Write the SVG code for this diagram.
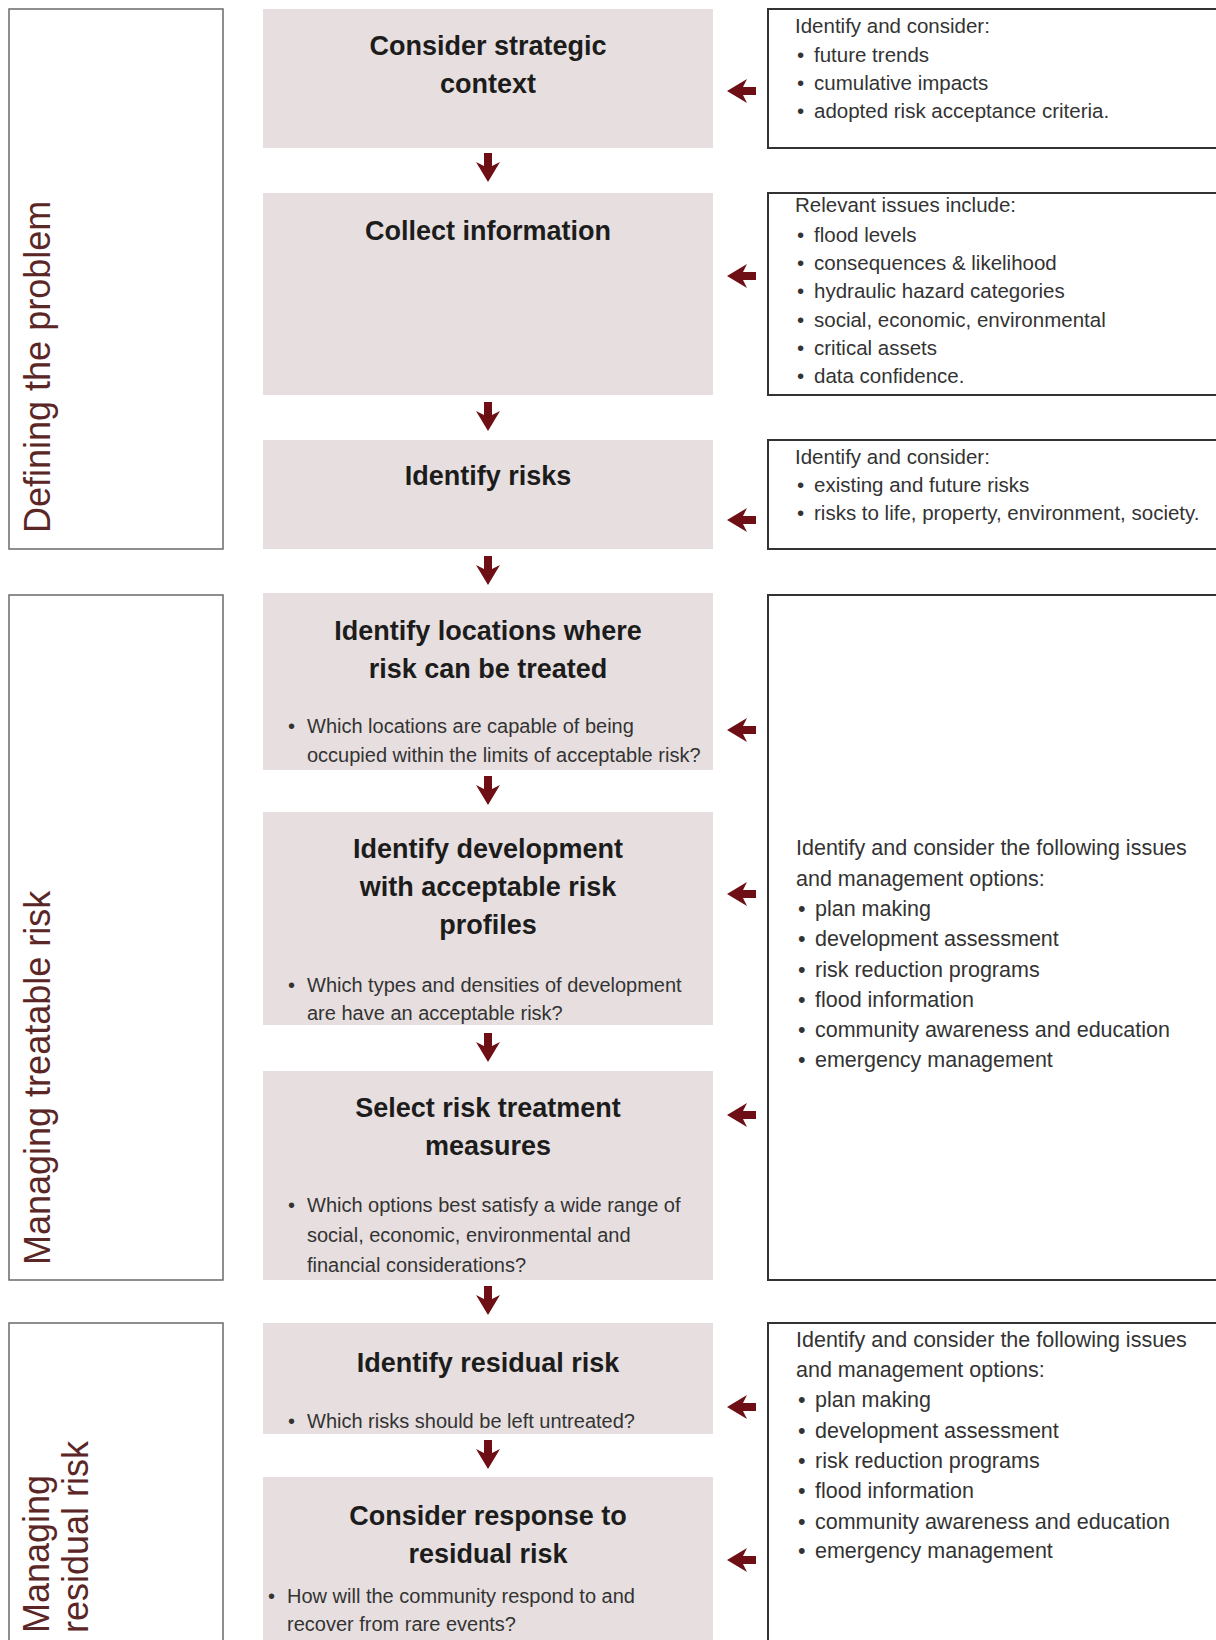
<svg xmlns="http://www.w3.org/2000/svg" width="1216" height="1640" viewBox="0 0 1216 1640">
<defs>
<style>
.phase{fill:#ffffff;stroke:#6a6a6a;stroke-width:1.5}
.step{fill:#e7dfdf;stroke:none}
.note{fill:#ffffff;stroke:#333333;stroke-width:2}
.lbl{font-family:"Liberation Sans",Arial,sans-serif;font-size:36px;fill:#5a2626}
.ttl{font-family:"Liberation Sans",Arial,sans-serif;font-size:27px;font-weight:bold;fill:#1c1c1c;text-anchor:middle}
.bul{font-family:"Liberation Sans",Arial,sans-serif;font-size:20px;fill:#333333}
.nt{font-family:"Liberation Sans",Arial,sans-serif;font-size:20.5px;fill:#333333}
.nt2{font-family:"Liberation Sans",Arial,sans-serif;font-size:21.5px;fill:#333333}
.arw{fill:#6d0f14}
</style>
<path id="arrowDown" d="M-4,-15 H4 V-2 L12,-6 L0,14 L-12,-6 L-4,-2 Z"/>
</defs>
<rect width="1216" height="1640" fill="#ffffff"/>

<g id="phase-defining">
<rect class="phase" x="9" y="9" width="214" height="540"/>
<text class="lbl" transform="translate(50,533) rotate(-90)" font-size="35">Defining the problem</text>
</g>
<g id="phase-treatable">
<rect class="phase" x="9" y="595" width="214" height="685"/>
<text class="lbl" transform="translate(50,1265) rotate(-90)">Managing treatable risk</text>
</g>
<g id="phase-residual">
<rect class="phase" x="9" y="1323" width="214" height="340"/>
<text class="lbl" transform="translate(49,1633) rotate(-90)">Managing</text>
<text class="lbl" transform="translate(88,1633) rotate(-90)">residual risk</text>
</g>

<g id="step-context">
<rect class="step" x="263" y="9" width="450" height="139"/>
<text class="ttl" x="488" y="55">Consider strategic</text>
<text class="ttl" x="488" y="93">context</text>
</g>
<g id="step-collect">
<rect class="step" x="263" y="193" width="450" height="202"/>
<text class="ttl" x="488" y="240">Collect information</text>
</g>
<g id="step-identify-risks">
<rect class="step" x="263" y="440" width="450" height="109"/>
<text class="ttl" x="488" y="485">Identify risks</text>
</g>
<g id="step-locations">
<rect class="step" x="263" y="593" width="450" height="177"/>
<text class="ttl" x="488" y="640">Identify locations where</text>
<text class="ttl" x="488" y="678">risk can be treated</text>
<text class="bul" x="288" y="733">•</text>
<text class="bul" x="307" y="733">Which locations are capable of being</text>
<text class="bul" x="307" y="762">occupied within the limits of acceptable risk?</text>
</g>
<g id="step-development">
<rect class="step" x="263" y="812" width="450" height="213"/>
<text class="ttl" x="488" y="858">Identify development</text>
<text class="ttl" x="488" y="896">with acceptable risk</text>
<text class="ttl" x="488" y="934">profiles</text>
<text class="bul" x="288" y="992">•</text>
<text class="bul" x="307" y="992">Which types and densities of development</text>
<text class="bul" x="307" y="1020">are have an acceptable risk?</text>
</g>
<g id="step-treatment">
<rect class="step" x="263" y="1071" width="450" height="209"/>
<text class="ttl" x="488" y="1117">Select risk treatment</text>
<text class="ttl" x="488" y="1155">measures</text>
<text class="bul" x="288" y="1212">•</text>
<text class="bul" x="307" y="1212">Which options best satisfy a wide range of</text>
<text class="bul" x="307" y="1242">social, economic, environmental and</text>
<text class="bul" x="307" y="1272">financial considerations?</text>
</g>
<g id="step-residual">
<rect class="step" x="263" y="1323" width="450" height="111"/>
<text class="ttl" x="488" y="1372">Identify residual risk</text>
<text class="bul" x="288" y="1428">•</text>
<text class="bul" x="307" y="1428">Which risks should be left untreated?</text>
</g>
<g id="step-response">
<rect class="step" x="263" y="1477" width="450" height="180"/>
<text class="ttl" x="488" y="1525">Consider response to</text>
<text class="ttl" x="488" y="1563">residual risk</text>
<text class="bul" x="268" y="1603">•</text>
<text class="bul" x="287" y="1603">How will the community respond to and</text>
<text class="bul" x="287" y="1631">recover from rare events?</text>
</g>

<g id="note-context">
<rect class="note" x="768" y="9" width="470" height="139"/>
<text class="nt" x="795" y="33">Identify and consider:</text>
<text class="nt" x="797" y="62">•</text><text class="nt" x="814" y="62">future trends</text>
<text class="nt" x="797" y="90">•</text><text class="nt" x="814" y="90">cumulative impacts</text>
<text class="nt" x="797" y="118">•</text><text class="nt" x="814" y="118">adopted risk acceptance criteria.</text>
</g>
<g id="note-collect">
<rect class="note" x="768" y="193" width="470" height="202"/>
<text class="nt" x="795" y="212">Relevant issues include:</text>
<text class="nt" x="797" y="242">•</text><text class="nt" x="814" y="242">flood levels</text>
<text class="nt" x="797" y="270">•</text><text class="nt" x="814" y="270">consequences &amp; likelihood</text>
<text class="nt" x="797" y="298">•</text><text class="nt" x="814" y="298">hydraulic hazard categories</text>
<text class="nt" x="797" y="327">•</text><text class="nt" x="814" y="327">social, economic, environmental</text>
<text class="nt" x="797" y="355">•</text><text class="nt" x="814" y="355">critical assets</text>
<text class="nt" x="797" y="383">•</text><text class="nt" x="814" y="383">data confidence.</text>
</g>
<g id="note-risks">
<rect class="note" x="768" y="440" width="470" height="109"/>
<text class="nt" x="795" y="464">Identify and consider:</text>
<text class="nt" x="797" y="492">•</text><text class="nt" x="814" y="492">existing and future risks</text>
<text class="nt" x="797" y="520">•</text><text class="nt" x="814" y="520">risks to life, property, environment, society.</text>
</g>
<g id="note-treatable">
<rect class="note" x="768" y="595" width="470" height="685"/>
<text class="nt2" x="796" y="855">Identify and consider the following issues</text>
<text class="nt2" x="796" y="886">and management options:</text>
<text class="nt2" x="798" y="916">•</text><text class="nt2" x="815" y="916">plan making</text>
<text class="nt2" x="798" y="946">•</text><text class="nt2" x="815" y="946">development assessment</text>
<text class="nt2" x="798" y="977">•</text><text class="nt2" x="815" y="977">risk reduction programs</text>
<text class="nt2" x="798" y="1007">•</text><text class="nt2" x="815" y="1007">flood information</text>
<text class="nt2" x="798" y="1037">•</text><text class="nt2" x="815" y="1037">community awareness and education</text>
<text class="nt2" x="798" y="1067">•</text><text class="nt2" x="815" y="1067">emergency management</text>
</g>
<g id="note-residual">
<rect class="note" x="768" y="1323" width="470" height="340"/>
<text class="nt2" x="796" y="1347">Identify and consider the following issues</text>
<text class="nt2" x="796" y="1377">and management options:</text>
<text class="nt2" x="798" y="1407">•</text><text class="nt2" x="815" y="1407">plan making</text>
<text class="nt2" x="798" y="1438">•</text><text class="nt2" x="815" y="1438">development assessment</text>
<text class="nt2" x="798" y="1468">•</text><text class="nt2" x="815" y="1468">risk reduction programs</text>
<text class="nt2" x="798" y="1498">•</text><text class="nt2" x="815" y="1498">flood information</text>
<text class="nt2" x="798" y="1529">•</text><text class="nt2" x="815" y="1529">community awareness and education</text>
<text class="nt2" x="798" y="1558">•</text><text class="nt2" x="815" y="1558">emergency management</text>
</g>

<g id="connectors" class="arw">
<use href="#arrowDown" x="488" y="168"/>
<use href="#arrowDown" x="488" y="417"/>
<use href="#arrowDown" x="488" y="571"/>
<use href="#arrowDown" x="488" y="791"/>
<use href="#arrowDown" x="488" y="1048"/>
<use href="#arrowDown" x="488" y="1301"/>
<use href="#arrowDown" x="488" y="1455"/>
<use href="#arrowDown" transform="translate(741,91) rotate(90)"/>
<use href="#arrowDown" transform="translate(741,276) rotate(90)"/>
<use href="#arrowDown" transform="translate(741,520) rotate(90)"/>
<use href="#arrowDown" transform="translate(741,730) rotate(90)"/>
<use href="#arrowDown" transform="translate(741,894) rotate(90)"/>
<use href="#arrowDown" transform="translate(741,1115) rotate(90)"/>
<use href="#arrowDown" transform="translate(741,1407) rotate(90)"/>
<use href="#arrowDown" transform="translate(741,1560) rotate(90)"/>
</g>
</svg>
